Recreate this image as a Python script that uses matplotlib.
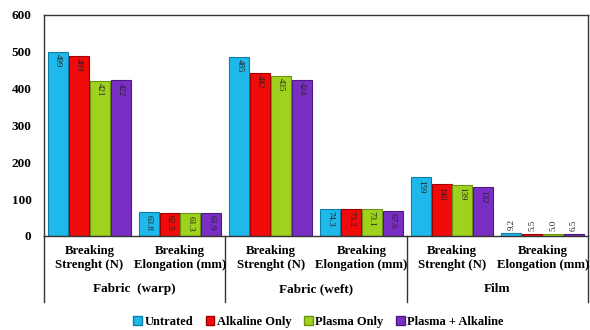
import numpy as np
import matplotlib.pyplot as plt
from matplotlib.lines import Line2D
from matplotlib.patches import Patch

treatments = ["Untrated", "Alkaline Only", "Plasma Only", "Plasma + Alkaline"]
colors = ["#1fb8ea", "#f00a0a", "#9fd21e", "#7a2fc4"]
edges = ["#0d7fa8", "#a00000", "#6a9410", "#4c1a85"]

categories = ["Breaking\nStrenght (N)", "Breaking\nElongation (mm)"] * 3
groups = ["Fabric  (warp)", "Fabric (weft)", "Film"]

untreated = [499, 63.8, 485, 74.3, 159, 9.2]
alkaline = [489, 62.5, 442, 73.2, 140, 5.5]
plasma = [421, 61.3, 435, 73.1, 139, 5.0]
plasma_alk = [422, 61.9, 424, 67.6, 132, 6.5]
labels = [
    ["499", "63.8", "485", "74.3", "159", "9.2"],
    ["489", "62.5", "442", "73.2", "140", "5.5"],
    ["421", "61.3", "435", "73.1", "139", "5.0"],
    ["422", "61.9", "424", "67.6", "132", "6.5"],
]
series = [untreated, alkaline, plasma, plasma_alk]

plt.rcParams['font.family'] = ['Liberation Serif', 'DejaVu Serif']

fig = plt.figure(figsize=(5.9, 3.3), dpi=100)
ax = fig.add_axes([0.0746, 0.285, 0.922, 0.67])

x = np.arange(len(categories)) + 0.5
w = 0.22
step = 0.23
for i, vals in enumerate(series):
    pos = x + (i - 1.5) * step
    ax.bar(pos, vals, w, color=colors[i], edgecolor=edges[i], linewidth=0.8, zorder=2)
    for p, v, t in zip(pos, vals, labels[i]):
        if v > 40:
            ax.text(p, v - 6, t, rotation=270, ha='center', va='top',
                    fontsize=6.5, color='#222222', zorder=3)
        else:
            ax.text(p, v + 8, t, rotation=90, ha='center', va='bottom',
                    fontsize=6.5, color='#222222', zorder=3)

ax.set_xlim(0, 6)
ax.set_ylim(0, 600)
ax.set_yticks(range(0, 601, 100))
ax.set_yticklabels([str(v) for v in range(0, 601, 100)], fontweight='bold', fontsize=9.5)
ax.tick_params(axis='y', length=0, pad=9)
ax.set_xticks([])
for s in ax.spines.values():
    s.set_color('#333333')
    s.set_linewidth(1.0)

# category labels under the axis
for xc, cat in zip(x, categories):
    ax.text(xc, -0.04, cat, transform=ax.get_xaxis_transform(), ha='center', va='top',
            fontsize=9.2, fontweight='bold', linespacing=1.3)

# group labels and separators
for g, name in enumerate(groups):
    ax.text(2 * g + 1, -0.215, name, transform=ax.get_xaxis_transform(), ha='center',
            va='top', fontsize=9.5, fontweight='bold')
for xs in [0, 2, 4, 6]:
    ax.add_line(Line2D([xs, xs], [0, -0.3], transform=ax.get_xaxis_transform(),
                       color='#333333', linewidth=1.0, clip_on=False))

handles = [Patch(facecolor=c, edgecolor=e) for c, e in zip(colors, edges)]
fig.legend(handles, treatments, loc='center', bbox_to_anchor=(0.54, 0.025), ncol=4,
           frameon=False, prop={'weight': 'bold', 'size': 9}, handlelength=0.7,
           handleheight=0.7, handletextpad=0.2, columnspacing=1.0)

fig.savefig("out.png", dpi=100)
